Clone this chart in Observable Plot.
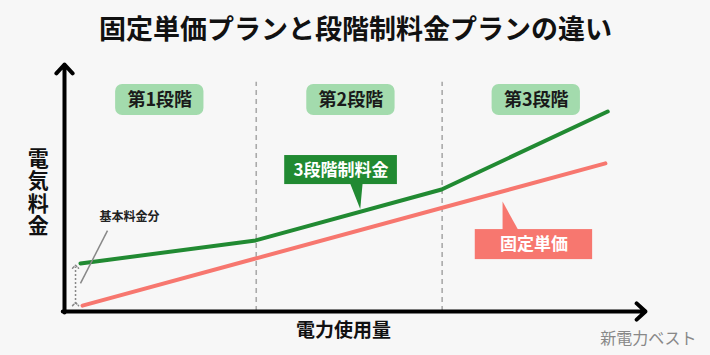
<!DOCTYPE html>
<html><head><meta charset="utf-8">
<script src="https://cdn.jsdelivr.net/npm/d3@7"></script>
<script src="https://cdn.jsdelivr.net/npm/@observablehq/plot@0.6"></script>
<style>body{margin:0;background:#f7f7f7;}</style>
</head><body><div id="chart"></div>
<script>
// ---- data ----
const titleText = "固定単価プランと段階制料金プランの違い";
const stageNames = ["第1段階", "第2段階", "第3段階"];
const stageBreaks = [33, 65];
const stageCenters = [16.4, 49.3, 81.2];
const stagedUsage = [2.75, 32.9, 64.9, 93.5];
const stagedCost = [19.5, 28.9, 49.6, 81.3];
const fixedUsage = [3.1, 93.1];
const fixedCost = [2.4, 60.2];
const stagedLabel = "3段階制料金";
const fixedLabel = "固定単価";
const baseLabel = "基本料金分";
const xLabel = "電力使用量";
const yLabel = "電気料金";
const credit = "新電力ベスト";

const GREEN = "#218a32", RED = "#f7776f", STAGE = "#a3dbad";
const FONT = "'Noto Sans CJK JP', 'Noto Sans', sans-serif";

const staged = stagedUsage.map((x, i) => ({x, y: stagedCost[i]}));
const fixed = fixedUsage.map((x, i) => ({x, y: fixedCost[i]}));
const stages = stageNames.map((name, i) => ({name, c: stageCenters[i]}));

const chart = Plot.plot({
  width: 710, height: 355,
  marginLeft: 64, marginRight: 65, marginTop: 65, marginBottom: 44,
  x: {domain: [0, 100], axis: null},
  y: {domain: [0, 100], axis: null},
  style: {background: "#f7f7f7", fontFamily: FONT, overflow: "visible"},
  marks: [
    Plot.ruleX(stageBreaks, {x: d => d, y1: 0, y2: 93.2, stroke: "#aaaaaa", strokeWidth: 1.6, strokeDasharray: "5,4"}),
    Plot.rect(stages, {x1: d => d.c - 7.6, x2: d => d.c + 7.6, y1: 79.7, y2: 92.3, rx: 7, fill: STAGE}),
    Plot.text(stages, {x: "c", y: 86, text: "name", fontSize: 18, fontWeight: "bold", fill: "#1a1a1a"}),
    Plot.line(fixed, {x: "x", y: "y", stroke: RED, strokeWidth: 4}),
    Plot.line(staged, {x: "x", y: "y", stroke: GREEN, strokeWidth: 4}),
    // axes with arrow heads
    Plot.arrow([0], {x1: 0, y1: -0.4, x2: 0, y2: 100.4, stroke: "#000", strokeWidth: 4, headLength: 4.5, headAngle: 85}),
    Plot.arrow([0], {x1: -0.3, y1: 0, x2: 100, y2: 0, stroke: "#000", strokeWidth: 4, headLength: 4.5, headAngle: 85}),
    // staged callout
    Plot.rect([0], {x1: 37.9, x2: 57.3, y1: 51.6, y2: 63.4, fill: GREEN}),
    Plot.line([{x: 49.2, y: 51.8}, {x: 51.3, y: 51.8}, {x: 50.9, y: 41.7}], {x: "x", y: "y", fill: GREEN, stroke: "none"}),
    Plot.text([stagedLabel], {x: 47.6, y: 57.5, text: d => d, fill: "white", fontSize: 17, fontWeight: "bold"}),
    // fixed callout
    Plot.rect([0], {x1: 70.7, x2: 90.9, y1: 21.1, y2: 33.3, fill: RED}),
    Plot.line([{x: 75.4, y: 33.1}, {x: 78.1, y: 33.1}, {x: 75.4, y: 44.7}], {x: "x", y: "y", fill: RED, stroke: "none"}),
    Plot.text([fixedLabel], {x: 80.8, y: 27.2, text: d => d, fill: "white", fontSize: 17, fontWeight: "bold"}),
    // base fee annotation
    Plot.link([0], {x1: 1.9, x2: 1.9, y1: 3.0, y2: 18.2, stroke: "#888", strokeWidth: 1.5, strokeDasharray: "2,2", markerStart: "arrow", markerEnd: "arrow"}),
    Plot.link([0], {x1: 7.4, y1: 32.9, x2: 2.75, y2: 11.4, stroke: "#888", strokeWidth: 1.5}),
    Plot.text([baseLabel], {x: 11.2, y: 38.2, text: d => d, fontSize: 12, fontWeight: "bold", fill: "#222"}),
    // labels
    Plot.text([titleText], {x: 50.1, y: 114.2, text: d => d, fontSize: 27, fontWeight: "bold", fill: "#111"}),
    Plot.text([yLabel], {x: -4.5, y: 51.2, text: d => d, fontSize: 21, fontWeight: "bold", fill: "#111",
      render(index, scales, values, dims, context, next) {
        const g = next(index, scales, values, dims, context);
        g.querySelectorAll("text").forEach(t => {
          t.style.writingMode = "vertical-rl";
          t.style.letterSpacing = "1.5px";
        });
        return g;
      }}),
    Plot.text([xLabel], {x: 48, y: -7.7, text: d => d, fontSize: 19, fontWeight: "bold", fill: "#111"}),
    Plot.text([credit], {x: 100.5, y: -11, text: d => d, fontSize: 16, fill: "#888"})
  ]
});
document.getElementById("chart").append(chart);
</script>
</body></html>
